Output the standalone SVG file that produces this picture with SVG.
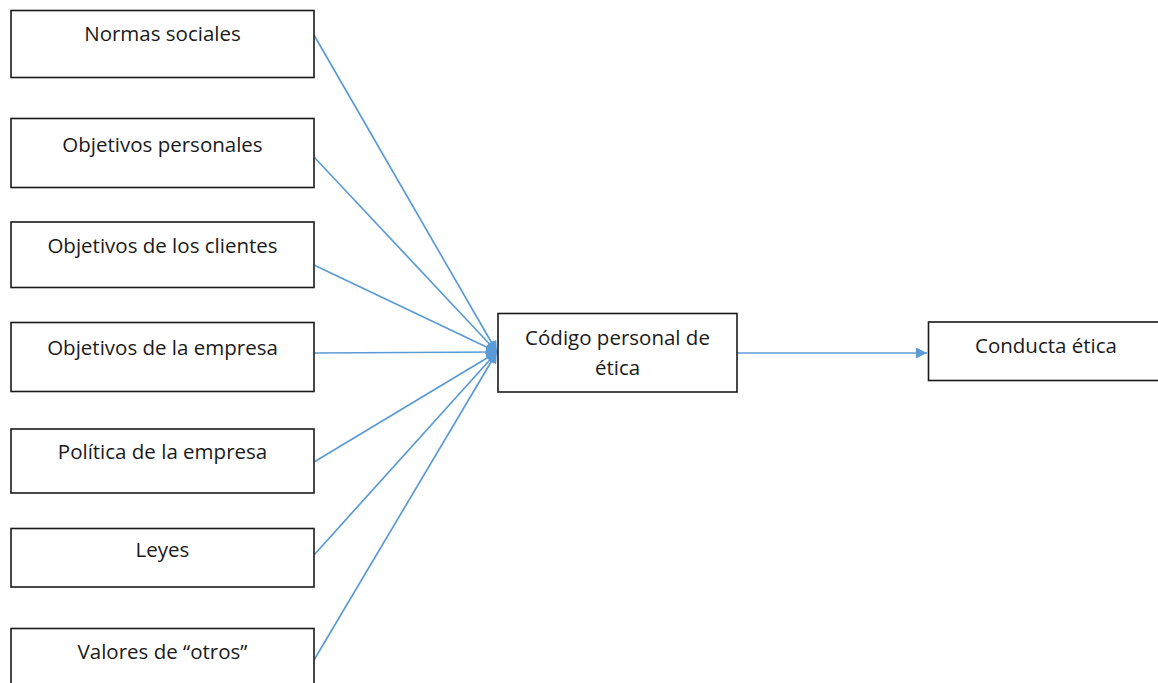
<svg xmlns="http://www.w3.org/2000/svg" width="1158" height="683" viewBox="0 0 1158 683">
<style>
.box{fill:#fff;stroke:#1a1a1a;stroke-width:1.6}
.lbl{font-family:"Open Sans","Liberation Sans",sans-serif;font-size:20.5px;fill:#1a1a1a;text-anchor:middle}
.con{stroke:#5B9BD5;stroke-width:1.7;fill:none}
</style>
<defs>
<marker id="ah2" viewBox="0 0 10 10" refX="10" refY="5" markerWidth="11" markerHeight="11" markerUnits="userSpaceOnUse" orient="auto">
<path d="M0,0 L10,5 L0,10 z" fill="#5B9BD5"/>
</marker>
</defs>
<rect width="1158" height="683" fill="#fff"/>
<g id="connectors">
<line class="con" x1="314" y1="35" x2="497" y2="352" marker-end="url(#ah2)"/>
<line class="con" x1="314" y1="157" x2="497" y2="352" marker-end="url(#ah2)"/>
<line class="con" x1="314" y1="265" x2="497" y2="352" marker-end="url(#ah2)"/>
<line class="con" x1="314" y1="353" x2="497" y2="352" marker-end="url(#ah2)"/>
<line class="con" x1="314" y1="462" x2="497" y2="352" marker-end="url(#ah2)"/>
<line class="con" x1="314" y1="555" x2="497" y2="352" marker-end="url(#ah2)"/>
<line class="con" x1="314" y1="660" x2="497" y2="352" marker-end="url(#ah2)"/>
<line class="con" x1="737" y1="353" x2="927" y2="353" marker-end="url(#ah2)"/>
</g>
<g id="n1"><rect class="box" x="11" y="10.5" width="303" height="67"/><text class="lbl" x="162.5" y="41">Normas sociales</text></g>
<g id="n2"><rect class="box" x="11" y="118.5" width="303" height="69"/><text class="lbl" x="162.5" y="152">Objetivos personales</text></g>
<g id="n3"><rect class="box" x="11" y="222" width="303" height="65.5"/><text class="lbl" x="162.5" y="253">Objetivos de los clientes</text></g>
<g id="n4"><rect class="box" x="11" y="322.5" width="303" height="69"/><text class="lbl" x="162.5" y="355">Objetivos de la empresa</text></g>
<g id="n5"><rect class="box" x="11" y="429" width="303" height="64"/><text class="lbl" x="162.5" y="459">Política de la empresa</text></g>
<g id="n6"><rect class="box" x="11" y="528.5" width="303" height="58.5"/><text class="lbl" x="162.5" y="557">Leyes</text></g>
<g id="n7"><rect class="box" x="11" y="628.5" width="303" height="70"/><text class="lbl" x="162.5" y="659">Valores de “otros”</text></g>
<g id="n8"><rect class="box" x="498" y="313.5" width="239" height="78.5"/><text class="lbl" x="617.5" y="345">Código personal de</text><text class="lbl" x="617.5" y="375">ética</text></g>
<g id="n9"><rect class="box" x="928.5" y="322" width="240" height="58.5"/><text class="lbl" x="1046" y="353">Conducta ética</text></g>
</svg>
